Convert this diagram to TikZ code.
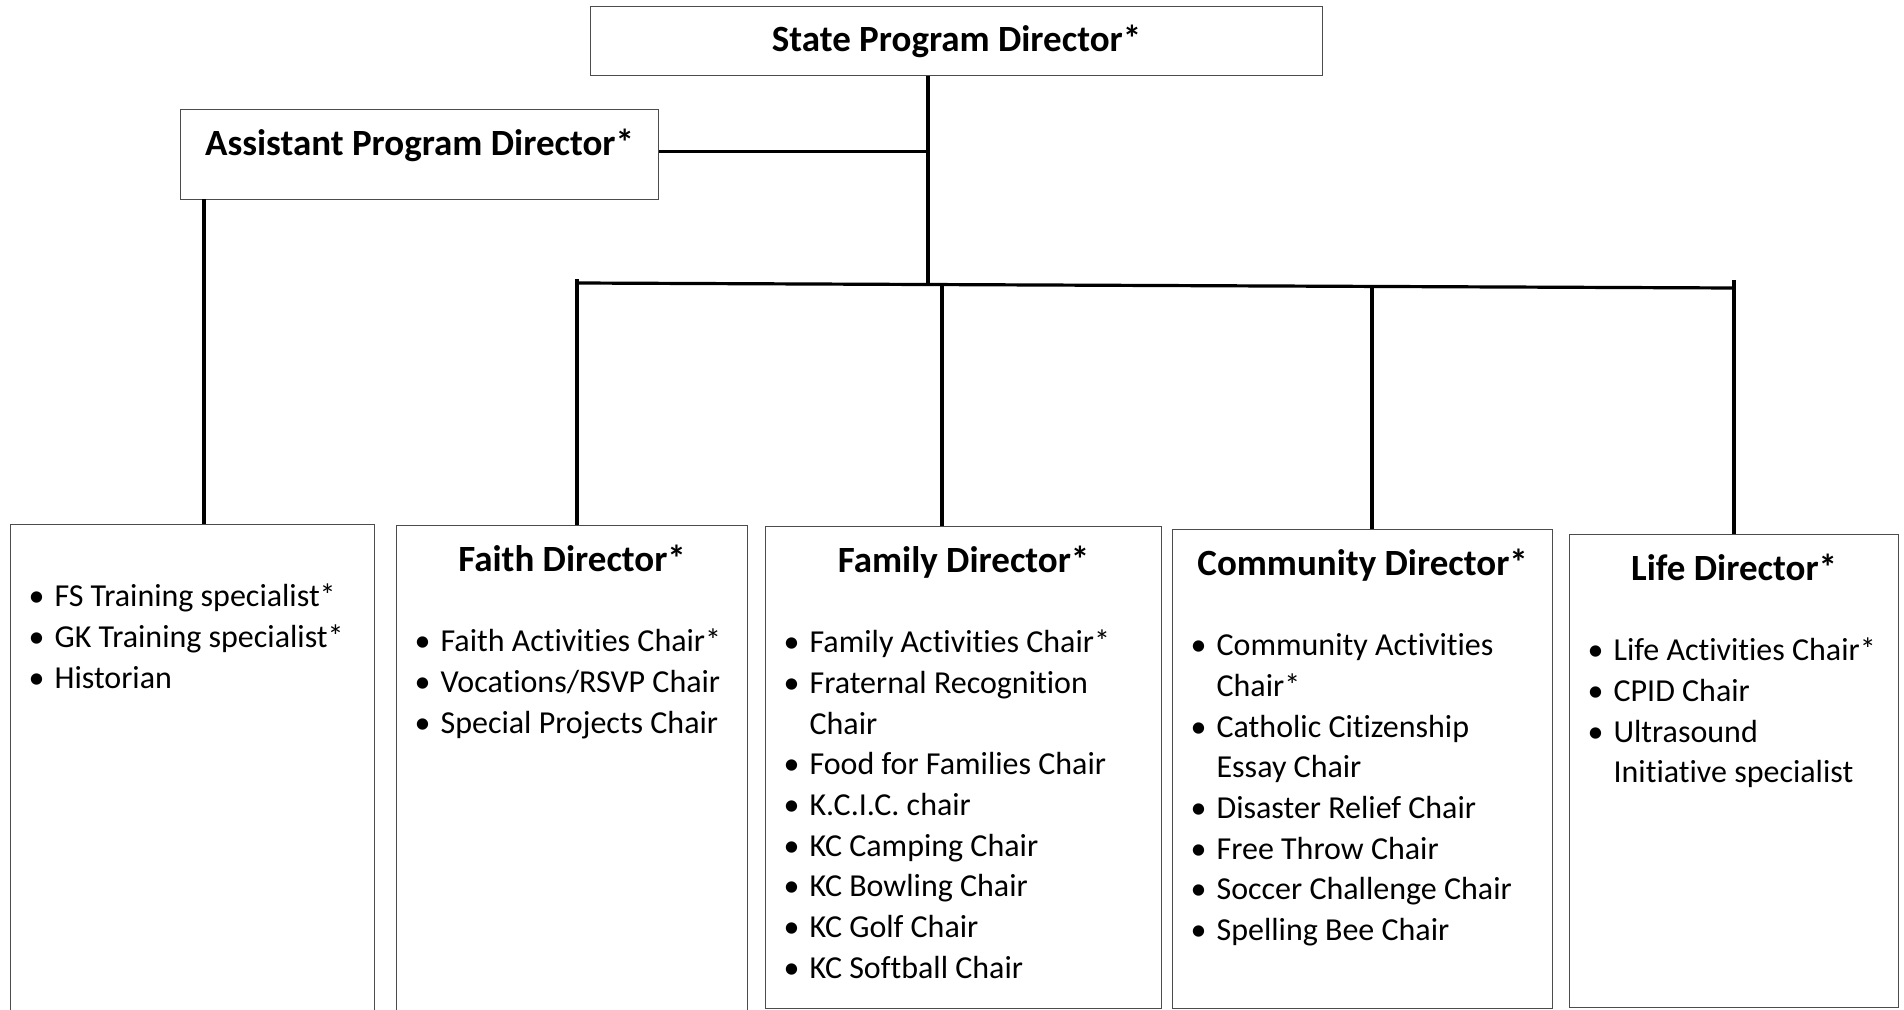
\documentclass[tikz,border=0pt]{standalone}
\usepackage{fontspec}
\setmainfont{Carlito}[Ligatures=NoCommon]

% heading, spacer and bullet lines inside the unit boxes
\newcommand{\unithead}[1]{\noindent\rule{0pt}{23pt}\makebox[\linewidth]{\fontsize{18.5}{22}\selectfont\bfseries #1}\par\vspace{19.65pt}}
\newcommand{\unitgap}{\noindent\rule{0pt}{20.65pt}\par}
\newcommand{\unititem}[1]{\hangindent=22pt\hangafter=1\noindent\makebox[22pt][l]{\hspace{9pt}\textbullet}#1\par}
\newcommand{\unitbody}[3]{\parbox[c][#2][t]{#1}{\fontsize{16}{20.35}\selectfont\raggedright\parskip=0pt\hyphenpenalty=10000 #3}}

\tikzset{
  orgbox/.style={draw=black!70, line width=0.6pt, inner sep=0pt, anchor=north west},
  link/.style={line width=1.6pt, black}
}

\begin{document}
\begin{tikzpicture}[x=0.5pt, y=-0.5pt]
    \clip (0,0) rectangle (1904,1010);

    % Top of the chart
    \node[orgbox, minimum width=366pt, minimum height=34.5pt, font=\fontsize{18.5}{22}\selectfont\bfseries]
        (state) at (590,6) {State Program Director*};
    \node[orgbox] (assist) at (180,109)
        {\parbox[c][45pt][t]{239pt}{\centering\rule{0pt}{23pt}{\fontsize{18.5}{22}\selectfont\bfseries Assistant Program Director*}}};

    % Unit boxes
    \node[orgbox] (staff) at (10,524) {\unitbody{182pt}{250pt}{%
        \unitgap
        \unititem{FS Training specialist*}
        \unititem{GK Training specialist*}
        \unititem{Historian}}};
    \node[orgbox] (faith) at (396,525) {\unitbody{175.5pt}{250pt}{%
        \unithead{Faith Director*}
        \unititem{Faith Activities Chair*}
        \unititem{Vocations/RSVP Chair}
        \unititem{Special Projects Chair}}};
    \node[orgbox] (family) at (765,526) {\unitbody{198pt}{241pt}{%
        \unithead{Family Director*}
        \unititem{Family Activities Chair*}
        \unititem{Fraternal Recognition\newline Chair}
        \unititem{Food for Families Chair}
        \unititem{K.C.I.C. chair}
        \unititem{KC Camping Chair}
        \unititem{KC Bowling Chair}
        \unititem{KC Golf Chair}
        \unititem{KC Softball Chair}}};
    \node[orgbox] (community) at (1172,529) {\unitbody{190pt}{239.5pt}{%
        \unithead{Community Director*}
        \unititem{Community Activities\newline Chair*}
        \unititem{Catholic Citizenship\newline Essay Chair}
        \unititem{Disaster Relief Chair}
        \unititem{Free Throw Chair}
        \unititem{Soccer Challenge Chair}
        \unititem{Spelling Bee Chair}}};
    \node[orgbox] (life) at (1569,534) {\unitbody{164.5pt}{236.5pt}{%
        \unithead{Life Director*}
        \unititem{Life Activities Chair*}
        \unititem{CPID Chair}
        \unititem{Ultrasound\newline Initiative specialist}}};

    % Bus and taps
    \coordinate (hub) at (928,284);
    \coordinate (busL) at (577,283);
    \coordinate (busR) at (1734,288);
    \coordinate (tapFaith) at (577,279);
    \coordinate (tapFamily) at (942,284.5);
    \coordinate (tapCommunity) at (1372,286);
    \coordinate (tapLife) at (1734,280);
    \coordinate (tapStaff) at (204,199);

    % Connectors
    \draw[link] (state.south -| hub) -- (hub);
    \draw[link] ([yshift=1.5pt]assist.east) -- ([yshift=1.5pt]assist.east -| hub);
    \draw[link] (busL) -- (busR);
    \draw[link] (tapFaith) -- (tapFaith |- faith.north);
    \draw[link] (tapFamily) -- (tapFamily |- family.north);
    \draw[link] (tapCommunity) -- (tapCommunity |- community.north);
    \draw[link] (tapLife) -- (tapLife |- life.north);
    \draw[link] (tapStaff) -- (tapStaff |- staff.north);
\end{tikzpicture}
\end{document}
